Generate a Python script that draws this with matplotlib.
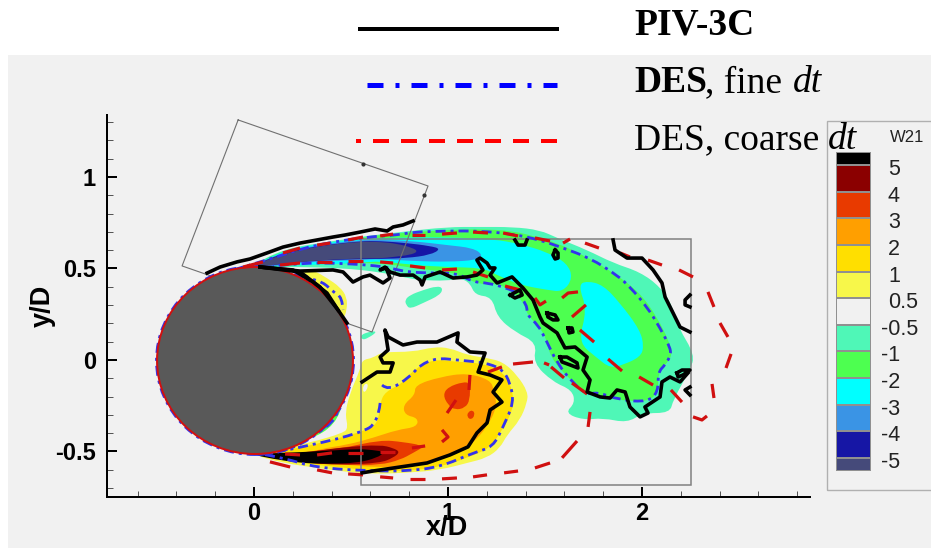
import matplotlib
matplotlib.use("Agg")
import matplotlib.pyplot as plt
from matplotlib.colors import ListedColormap
from matplotlib.lines import Line2D
from matplotlib.patches import Ellipse, Rectangle, PathPatch
from matplotlib.path import Path
import numpy as np

# ---------- contour levels ----------
LEVEL_LABELS = ['5', '4', '3', '2', '1', '0.5', '-0.5', '-1', '-2', '-3', '-4', '-5']
BG = '#f1f1f1'
C_GT5 = '#000000'; C_45 = '#8b0000'; C_34 = '#e83a00'; C_23 = '#ff9f00'; C_12 = '#ffdf00'
C_051 = '#f7f74a'; C_N1 = '#4ff7b7'; C_N2 = '#4dff50'; C_N3 = '#00ffff'; C_N4 = '#3a94e5'
C_N5 = '#1616a5'; C_LTN5 = '#454a7a'
LEVEL_COLOURS = [C_GT5, C_45, C_34, C_23, C_12, C_051, BG, C_N1, C_N2, C_N3, C_N4, C_N5, C_LTN5]

# ---------- positive vorticity contours (x/D, y/D) ----------
POS_05_LOWER = [(-0.021,-0.514),(0.149,-0.481),(0.304,-0.448),(0.459,-0.399),(0.485,-0.372),(0.469,-0.290),(0.495,-0.180),
    (0.546,-0.055),(0.557,0.0),(0.613,0.011),(0.660,0.044),(0.820,0.044),(0.923,0.071),(1.010,0.066),(1.098,0.027),
    (1.201,0.011),(1.284,-0.011),(1.356,-0.082),(1.412,-0.175),(1.407,-0.235),(1.371,-0.328),(1.304,-0.410),(1.268,-0.481),
    (1.201,-0.535),(1.098,-0.563),(0.959,-0.601),(0.789,-0.617),(0.613,-0.623),(0.479,-0.612),(0.325,-0.590),(0.149,-0.563)]
POS_05_HOLE = [(0.562,-0.137),(0.588,-0.126),(0.583,-0.164),(0.562,-0.180)]
POS_05_UPPER = [(0.237,0.492),(0.304,0.492),(0.376,0.448),(0.443,0.399),(0.479,0.344),(0.479,0.273),(0.459,0.219),
    (0.407,0.311),(0.325,0.426),(0.237,0.475)]
POS_1 = [(-0.021,-0.514),(0.149,-0.497),(0.304,-0.464),(0.459,-0.421),(0.583,-0.382),(0.639,-0.344),(0.650,-0.235),
    (0.675,-0.175),(0.768,-0.126),(0.820,-0.055),(0.923,0.005),(1.046,-0.011),(1.165,-0.016),(1.268,-0.055),(1.320,-0.126),
    (1.340,-0.219),(1.320,-0.311),(1.268,-0.399),(1.217,-0.481),(1.098,-0.535),(0.959,-0.585),(0.789,-0.607),(0.613,-0.607),
    (0.479,-0.590),(0.325,-0.574),(0.149,-0.546)]
POS_2 = [(0.340,-0.486),(0.479,-0.464),(0.613,-0.426),(0.737,-0.382),(0.840,-0.366),(0.845,-0.317),(0.778,-0.301),
    (0.768,-0.246),(0.830,-0.191),(0.830,-0.137),(0.959,-0.093),(1.098,-0.071),(1.217,-0.109),(1.237,-0.164),(1.253,-0.257),
    (1.201,-0.366),(1.129,-0.454),(1.062,-0.503),(0.923,-0.557),(0.789,-0.585),(0.613,-0.585),(0.479,-0.574),(0.325,-0.557),(0.186,-0.535)]
POS_3_TAIL = [(0.237,-0.503),(0.443,-0.486),(0.650,-0.437),(0.768,-0.448),(0.882,-0.470),(0.820,-0.508),(0.753,-0.546),
    (0.650,-0.574),(0.479,-0.574),(0.273,-0.563),(0.134,-0.535)]
POS_3_BLOB = [(0.974,-0.191),(1.000,-0.148),(1.077,-0.120),(1.113,-0.126),(1.113,-0.219),(1.088,-0.262),(1.036,-0.273),(1.000,-0.246)]
POS_3_SPOT = [(1.103,-0.284),(1.129,-0.273),(1.139,-0.301),(1.119,-0.328),(1.098,-0.311)]
POS_4 = [(0.160,-0.541),(0.273,-0.503),(0.479,-0.475),(0.650,-0.464),(0.717,-0.481),(0.753,-0.503),(0.717,-0.535),
    (0.650,-0.563),(0.443,-0.574),(0.273,-0.563)]
POS_5 = [(-0.021,-0.514),(0.149,-0.508),(0.376,-0.497),(0.531,-0.486),(0.613,-0.492),(0.675,-0.503),(0.634,-0.535),
    (0.531,-0.563),(0.376,-0.568),(0.237,-0.563),(0.098,-0.541)]

# ---------- negative vorticity contours ----------
NEG_05 = [(-0.021,0.508),(0.149,0.607),(0.407,0.650),(0.583,0.678),(0.753,0.699),(0.995,0.727),(1.165,0.727),(1.335,0.727),
    (1.474,0.710),(1.562,0.667),(1.717,0.601),(1.851,0.530),(1.990,0.481),(2.095,0.399),(2.160,0.290),(2.186,0.180),
    (2.273,0.027),(2.247,-0.055),(2.160,-0.219),(2.144,-0.290),(2.005,-0.290),(1.923,-0.344),(1.799,-0.317),(1.696,-0.328),
    (1.603,-0.290),(1.655,-0.235),(1.639,-0.164),(1.541,-0.120),(1.438,-0.016),(1.459,0.093),(1.345,0.153),(1.253,0.235),
    (1.227,0.344),(1.139,0.355),(1.113,0.421),(1.062,0.448),(0.995,0.432),(0.856,0.437),(0.789,0.448),(0.650,0.481),
    (0.443,0.503),(0.237,0.508),(0.057,0.508)]
NEG_05_BLOB_A = [(0.778,0.328),(0.804,0.355),(0.871,0.382),(0.943,0.404),(0.974,0.393),(0.959,0.355),(0.871,0.311),(0.804,0.279),(0.784,0.301)]
NEG_05_BLOB_B = [(0.546,0.137),(0.608,0.158),(0.634,0.153),(0.588,0.120),(0.557,0.109)]
NEG_05_SLIVER = [(0.468,-0.207),(0.418,-0.355),(0.288,-0.437),(0.366,-0.355)]
NEG_1 = [(-0.021,0.508),(0.149,0.601),(0.407,0.639),(0.583,0.672),(0.650,0.683),(0.820,0.699),(0.995,0.710),(1.165,0.716),
    (1.335,0.705),(1.459,0.672),(1.562,0.639),(1.717,0.563),(1.871,0.464),(1.990,0.366),(2.077,0.235),(2.144,0.093),
    (2.155,0.027),(2.129,-0.016),(2.083,-0.071),(2.083,-0.180),(2.026,-0.229),(1.887,-0.219),(1.732,-0.202),(1.614,-0.093),
    (1.526,0.016),(1.500,0.148),(1.407,0.246),(1.387,0.328),(1.268,0.421),(1.165,0.410),(1.062,0.464),(0.995,0.481),
    (0.820,0.503),(0.650,0.530),(0.443,0.530),(0.237,0.519),(0.057,0.508)]
NEG_2_BAND = [(-0.021,0.508),(0.149,0.596),(0.325,0.634),(0.546,0.661),(0.650,0.667),(0.959,0.672),(1.232,0.661),(1.371,0.634),
    (1.510,0.590),(1.613,0.530),(1.644,0.448),(1.593,0.372),(1.510,0.383),(1.371,0.410),(1.253,0.464),(1.180,0.503),
    (0.995,0.508),(0.820,0.519),(0.650,0.541),(0.546,0.530),(0.273,0.519),(0.057,0.508)]
NEG_2_BLOB = [(1.671,0.410),(1.717,0.432),(1.799,0.410),(1.887,0.311),(1.990,0.164),(2.010,0.071),(1.990,0.016),(1.902,-0.027),
    (1.835,-0.044),(1.768,0.011),(1.670,0.098),(1.717,0.273)]
NEG_3 = [(-0.021,0.508),(0.149,0.590),(0.325,0.628),(0.546,0.656),(0.650,0.656),(0.820,0.650),(0.995,0.628),(1.129,0.612),
    (1.180,0.574),(1.149,0.546),(0.995,0.536),(0.820,0.541),(0.650,0.552),(0.546,0.546),(0.273,0.536),(0.067,0.508)]
NEG_4 = [(-0.021,0.508),(0.149,0.585),(0.325,0.623),(0.546,0.650),(0.650,0.650),(0.789,0.639),(0.907,0.623),(0.964,0.607),
    (0.907,0.574),(0.789,0.557),(0.650,0.552),(0.546,0.552),(0.273,0.541),(0.067,0.514)]
NEG_5 = [(-0.021,0.508),(0.149,0.580),(0.325,0.621),(0.546,0.648),(0.650,0.645),(0.737,0.636),(0.820,0.612),(0.845,0.592),
    (0.804,0.574),(0.717,0.563),(0.650,0.555),(0.546,0.556),(0.273,0.541),(0.067,0.514)]

# ---------- PIV-3C iso-lines ----------
PIV_OPEN = [
    [(-0.242,0.475),(-0.175,0.508),(-0.088,0.536),(-0.021,0.552),(0.067,0.585),(0.149,0.617),(0.237,0.639),(0.325,0.656),
     (0.407,0.672),(0.469,0.683),(0.546,0.699),(0.624,0.716),(0.686,0.705),(0.717,0.727),(0.768,0.738),(0.820,0.760)],
    [(0.031,0.508),(0.237,0.486),(0.407,0.492),(0.459,0.481),(0.510,0.426),(0.562,0.454),(0.598,0.464),(0.665,0.421),
     (0.701,0.448),(0.681,0.503),(0.650,0.492),(0.675,0.508),(0.701,0.481),(0.753,0.464),(0.820,0.464),(0.856,0.437),
     (0.866,0.410),(0.882,0.454),(0.959,0.481),(1.026,0.448),(1.098,0.454),(1.149,0.464),(1.180,0.492),(1.149,0.546),
     (1.165,0.557),(1.201,0.530),(1.217,0.503),(1.242,0.503),(1.217,0.464),(1.253,0.421),(1.330,0.454),(1.387,0.393),
     (1.438,0.328),(1.474,0.235),(1.490,0.202),(1.562,0.148),(1.603,0.066),(1.655,0.071),(1.717,0.016),(1.696,-0.055),
     (1.732,-0.109),(1.717,-0.175),(1.784,-0.202),(1.835,-0.208),(1.871,-0.164),(1.913,-0.175),(1.938,-0.257),(1.990,-0.311),
     (2.031,-0.290),(2.015,-0.257),(2.093,-0.202),(2.103,-0.120),(2.144,-0.093),(2.196,-0.120),(2.237,-0.071)],
    [(0.031,0.508),(0.201,0.492),(0.304,0.426),(0.376,0.366),(0.433,0.273),(0.479,0.202)],
    [(0.031,0.508),(0.237,0.481),(0.340,0.399),(0.433,0.273)],
    [(1.851,0.656),(1.861,0.601),(1.923,0.557),(2.000,0.557),(2.057,0.492),(2.103,0.421),(2.119,0.344),(2.160,0.257),(2.196,0.180),(2.247,0.153)],
    [(2.247,0.355),(2.222,0.328),(2.222,0.301),(2.247,0.290)],
    [(2.247,-0.148),(2.222,-0.164),(2.247,-0.191)],
    [(1.345,0.656),(1.361,0.628),(1.397,0.628),(1.407,0.656)],
    [(0.557,-0.617),(0.613,-0.607),(0.753,-0.585),(0.892,-0.563),(1.010,-0.519),(1.103,-0.475),(1.149,-0.399),(1.201,-0.344),
     (1.217,-0.273),(1.278,-0.230),(1.232,-0.175),(1.278,-0.109),(1.217,-0.082),(1.155,-0.066),(1.191,0.038),(1.113,0.044),
     (1.046,0.098),(1.052,0.148),(0.943,0.098),(0.840,0.098),(0.768,0.082),(0.691,0.126),(0.675,0.164),(0.691,0.055),
     (0.650,0.016),(0.665,-0.016),(0.717,-0.016),(0.701,-0.066),(0.634,-0.066),(0.557,-0.120)],
]
PIV_LOOPS = [
    [(2.180,-0.071),(2.206,-0.055),(2.247,-0.055),(2.211,-0.082),(2.186,-0.093)],
    [(1.552,0.601),(1.567,0.585),(1.567,0.557),(1.552,0.552),(1.541,0.574)],
    [(1.510,0.257),(1.552,0.246),(1.567,0.219),(1.541,0.219),(1.515,0.235)],
    [(1.619,0.175),(1.639,0.175),(1.644,0.153),(1.624,0.148)],
    [(1.577,0.016),(1.613,0.016),(1.665,-0.016),(1.670,-0.044),(1.629,-0.027),(1.588,-0.011)],
    [(1.320,0.355),(1.371,0.383),(1.382,0.355),(1.345,0.339)],
]

# ---------- DES fine dt iso-lines ----------
DES_FINE = [
    [(-0.108,0.492),(0.067,0.546),(0.237,0.607),(0.407,0.645),(0.583,0.672),(0.737,0.683),(0.820,0.699),(0.995,0.705),
     (1.165,0.705),(1.335,0.688),(1.474,0.656),(1.593,0.612),(1.732,0.557),(1.871,0.464),(1.938,0.399),(2.026,0.290),
     (2.093,0.175),(2.144,0.071),(2.149,0.027),(2.119,-0.027),(2.083,-0.066),(2.083,-0.175),(2.031,-0.229),(1.887,-0.219),
     (1.768,-0.175),(1.717,-0.191),(1.639,-0.120),(1.562,-0.016),(1.500,0.120),(1.464,0.191),(1.407,0.246),(1.407,0.301),
     (1.356,0.366),(1.304,0.393),(1.206,0.421),(1.129,0.426),(1.046,0.475),(0.907,0.475),(0.789,0.481),(0.701,0.503),
     (0.598,0.519),(0.407,0.530),(0.253,0.530),(0.098,0.514)],
    [(0.237,0.481),(0.273,0.448),(0.356,0.426),(0.407,0.372),(0.454,0.344),(0.459,0.273)],
    [(-0.175,-0.464),(-0.021,-0.503),(0.149,-0.535),(0.325,-0.590),(0.613,-0.607),(0.789,-0.607),(0.959,-0.585),(1.129,-0.508),
     (1.232,-0.475),(1.284,-0.366),(1.340,-0.230),(1.320,-0.126),(1.284,-0.055),(1.201,-0.016),(1.046,0.0),(0.943,0.011),
     (0.856,-0.027),(0.804,-0.093),(0.691,-0.169),(0.660,-0.137)],
    [(0.650,-0.235),(0.639,-0.344),(0.546,-0.399),(0.304,-0.464),(0.119,-0.503)],
    [(0.505,-0.098),(0.443,-0.262),(0.392,-0.366),(0.237,-0.454)],
]

# ---------- DES coarse dt iso-line, dash by dash ----------
DES_COARSE = [
    [(-0.057,0.508),(0.046,0.536)],[(0.149,0.585),(0.237,0.612)],[(0.325,0.628),(0.392,0.639)],[(0.485,0.656),(0.562,0.672)],
    [(0.650,0.678),(0.717,0.688)],[(0.814,0.683),(0.882,0.683)],[(0.969,0.688),(1.046,0.694)],[(1.129,0.699),(1.206,0.694)],
    [(1.284,0.694),(1.361,0.678)],[(1.448,0.667),(1.526,0.650)],[(1.593,0.639),(1.629,0.661)],[(1.706,0.639),(1.778,0.612)],
    [(1.887,0.585),(1.938,0.563)],[(2.031,0.546),(2.103,0.519)],[(2.191,0.492),(2.263,0.454)],[(2.340,0.372),(2.371,0.290)],
    [(2.402,0.202),(2.443,0.126)],[(2.459,0.033),(2.433,-0.044)],[(2.361,-0.131),(2.371,-0.208)],
    [(2.335,-0.306),(2.309,-0.328),(2.263,-0.311)],[(2.206,-0.230),(2.149,-0.164)],[(2.057,-0.137),(1.985,-0.093)],
    [(1.897,-0.060),(1.825,0.005)],[(1.753,0.098),(1.680,0.164)],[(1.639,0.235),(1.711,0.301)],
    [(1.588,0.339),(1.619,0.366),(1.670,0.372)],[(1.448,0.339),(1.474,0.301),(1.505,0.322)],[(1.371,0.383),(1.294,0.404)],
    [(1.206,0.454),(1.129,0.481)],[(1.046,0.497),(0.969,0.492)],[(0.882,0.503),(0.804,0.514)],[(0.717,0.530),(0.650,0.536)],
    [(0.562,0.541),(0.485,0.541)],[(0.402,0.536),(0.325,0.536)],[(0.237,0.530),(0.134,0.519)],
    [(0.082,-0.557),(0.186,-0.585)],[(0.325,-0.601),(0.402,-0.617)],[(0.485,-0.623),(0.562,-0.628)],[(0.650,-0.639),(0.717,-0.645)],
    [(0.804,-0.650),(0.882,-0.650)],[(0.969,-0.650),(1.046,-0.645)],[(1.129,-0.639),(1.201,-0.628)],[(1.289,-0.617),(1.361,-0.607)],
    [(1.448,-0.590),(1.526,-0.563)],[(1.588,-0.535),(1.665,-0.443)],[(1.722,-0.366),(1.732,-0.284)],
    [(1.206,-0.066),(1.278,-0.038)],[(1.335,-0.022),(1.438,-0.011)],[(1.495,-0.016),(1.521,-0.027)],[(1.531,-0.038),(1.598,-0.098)],
    [(1.639,-0.126),(1.717,-0.186)],[(1.113,-0.082),(1.108,-0.164)],[(1.041,-0.219),(0.995,-0.290)],
    [(0.969,-0.382),(1.000,-0.421),(0.969,-0.448)],[(0.814,-0.481),(0.882,-0.470)],[(0.650,-0.503),(0.727,-0.503)],
    [(0.485,-0.508),(0.562,-0.508)],[(0.325,-0.519),(0.402,-0.508)],[(0.160,-0.514),(0.237,-0.519)],
]

# ---------- measurement windows ----------
PIV_WINDOW_X = [0.552, 2.253]
PIV_WINDOW_Y = [-0.683, 0.661]
ROTATED_WINDOW = [(-0.082,1.312),(0.897,0.951),(0.608,0.153),(-0.371,0.514)]
WINDOW_MARKS = [(0.562,1.071),(0.876,0.902)]
CYL_CENTRE = (0.005, -0.003)
CYL_W, CYL_H = 1.01, 1.022

W, H = 931, 548
plt.rcParams['lines.scale_dashes'] = False
fig = plt.figure(figsize=(W/100, H/100), dpi=100, facecolor='white')
fx = lambda px: px / W
fy = lambda py: 1 - py / H
PT = 0.72  # points per pixel at 100 dpi

fig.add_artist(Rectangle((fx(8), 0), 1 - fx(8), fy(55), transform=fig.transFigure, fc=BG, ec='none', zorder=-5))

ax = fig.add_axes([fx(107), fy(497), fx(810) - fx(107), fy(115) - fy(497)], facecolor='none')
ax.set_xlim(-0.758, 2.866)
ax.set_ylim(-0.749, 1.339)


def closed_curve(points):
    """Smooth closed outline with the read points as quadratic control points."""
    p = np.array(points, float)
    mids = (p + np.roll(p, -1, axis=0)) / 2
    verts = [mids[-1]]
    codes = [Path.MOVETO]
    for ctrl, end in zip(p, mids):
        verts += [ctrl, end]
        codes += [Path.CURVE3, Path.CURVE3]
    return Path(verts, codes)


def open_curve(points):
    p = np.array(points, float)
    verts = [p[0]]
    codes = [Path.MOVETO]
    for i in range(1, len(p) - 1):
        end = p[i + 1] if i == len(p) - 2 else (p[i] + p[i + 1]) / 2
        verts += [p[i], end]
        codes += [Path.CURVE3, Path.CURVE3]
    return Path(verts, codes)


for pts, col in [(NEG_05, C_N1), (NEG_05_BLOB_A, C_N1), (NEG_05_BLOB_B, C_N1), (NEG_1, C_N2), (NEG_05_SLIVER, C_N2),
                 (NEG_2_BAND, C_N3), (NEG_2_BLOB, C_N3), (NEG_3, C_N4), (NEG_4, C_N5), (NEG_5, C_LTN5),
                 (POS_05_LOWER, C_051), (POS_05_UPPER, C_051), (POS_05_HOLE, BG), (POS_1, C_12), (POS_2, C_23),
                 (POS_3_TAIL, C_34), (POS_3_BLOB, C_34), (POS_3_SPOT, C_34), (POS_4, C_45), (POS_5, C_GT5)]:
    ax.add_patch(PathPatch(closed_curve(pts), fc=col, ec='none', lw=0, zorder=2))

# windows
ax.add_patch(Rectangle((PIV_WINDOW_X[0], PIV_WINDOW_Y[0]), PIV_WINDOW_X[1] - PIV_WINDOW_X[0],
                       PIV_WINDOW_Y[1] - PIV_WINDOW_Y[0], fc='none', ec='#808080', lw=1.1, zorder=3))
rx, ry = zip(*(ROTATED_WINDOW + ROTATED_WINDOW[:1]))
ax.plot(rx, ry, color='#707070', lw=0.8, zorder=3)
mx, my = zip(*WINDOW_MARKS)
ax.plot(mx, my, ls='none', marker='o', ms=2, color='#333333', zorder=3)

# iso-lines
FINE_DASH = (0, (10*PT, 5*PT, 3*PT, 5*PT))
for seg in DES_FINE:
    ax.add_patch(PathPatch(open_curve(seg), fc='none', ec='#3333ee', lw=2.8*PT, ls=FINE_DASH, capstyle='butt', zorder=5))

# cylinder
ax.add_patch(Ellipse(CYL_CENTRE, CYL_W + 0.008, CYL_H + 0.008, fc='none', ec='#3333ee', lw=2.4*PT, ls=FINE_DASH, zorder=4))
ax.add_patch(Ellipse(CYL_CENTRE, CYL_W, CYL_H, fc='#595959', ec='#d01010', lw=2*PT, zorder=5.5))

for seg in DES_COARSE:
    xs, ys = zip(*seg)
    ax.plot(xs, ys, color='#d01010', lw=3.2*PT, solid_capstyle='butt', zorder=6)

for seg in PIV_OPEN:
    xs, ys = zip(*seg)
    ax.plot(xs, ys, color='black', lw=3.6*PT, solid_joinstyle='round', zorder=7)
for seg in PIV_LOOPS:
    xs, ys = zip(*(seg + seg[:1]))
    ax.plot(xs, ys, color='black', lw=3.6*PT, solid_joinstyle='round', zorder=7)

# axes furniture
for s in ('top', 'right'):
    ax.spines[s].set_visible(False)
for s in ('left', 'bottom'):
    ax.spines[s].set_linewidth(2*PT)
ax.set_xticks([0, 1, 2])
ax.set_xticks([v/5 for v in range(-3, 15) if v % 5], minor=True)
ax.set_yticks([-0.5, 0, 0.5, 1])
ax.set_yticklabels(['-0.5', '0', '0.5', '1'])
ax.set_yticks([v/10 for v in range(-7, 14) if v % 5], minor=True)
ax.tick_params(which='major', direction='in', length=10*PT, width=2*PT)
ax.tick_params(axis='x', which='major', pad=3.5)
ax.tick_params(axis='y', which='major', pad=8)
ax.tick_params(which='minor', direction='in', length=6*PT, width=1*PT, color='#555555')
for lab in ax.get_xticklabels() + ax.get_yticklabels():
    lab.set_fontfamily('Liberation Sans')
    lab.set_fontweight('bold')
    lab.set_fontsize(17)
fig.text(fx(447), fy(528), 'x/D', family='Liberation Sans', weight='bold', size=19.5, ha='center', va='center')
fig.text(fx(43), fy(306), 'y/D', family='Liberation Sans', weight='bold', size=19.5, ha='center', va='center', rotation=90)

# legend lines
fig.add_artist(Line2D([fx(358), fx(559)], [fy(29), fy(29)], color='black', lw=4*PT, solid_capstyle='butt'))
fig.add_artist(Line2D([fx(367), fx(557)], [fy(84.5), fy(84.5)], color='#0000ff', lw=5*PT,
                      ls=(0, (16*PT, 12*PT, 4*PT, 12*PT)), dash_capstyle='butt'))
fig.add_artist(Line2D([fx(356), fx(557)], [fy(141), fy(141)], color='#ff0000', lw=4*PT,
                      ls=(11*PT, (16*PT, 12*PT)), dash_capstyle='butt'))

# legend text
SERIF = 'Liberation Serif'
LEG_SIZE = 27
for px, py, s, w, st in [(634, 34.5, 'PIV-3C', 'bold', 'normal'),
                         (634, 92, 'DES', 'bold', 'normal'), (705, 92, ', fine', 'normal', 'normal'), (793, 92, 'dt', 'normal', 'italic'),
                         (634, 149, 'DES, coarse', 'normal', 'normal'), (828, 149, 'dt', 'normal', 'italic')]:
    fig.text(fx(px), fy(py), s, family=SERIF, weight=w, style=st, size=LEG_SIZE, ha='left', va='baseline', zorder=10)

# contour legend
fig.add_artist(Rectangle((fx(827), fy(490)), 1.01 - fx(827), fy(121) - fy(490), transform=fig.transFigure,
                         fc='none', ec='#b0b0b0', lw=1, zorder=1))
cax = fig.add_axes([fx(836), fy(471), fx(871) - fx(836), fy(152) - fy(471)])
n = len(LEVEL_LABELS)
edges = np.array([-0.5] + list(range(n)) + [n - 0.5])
vals = np.arange(len(LEVEL_COLOURS)).reshape(-1, 1)
cax.pcolormesh([0, 1], edges, vals, cmap=ListedColormap(LEVEL_COLOURS[::-1]), vmin=-0.5, vmax=len(LEVEL_COLOURS) - 0.5,
               edgecolors='#909090', linewidth=0.3)
cax.set_xlim(0, 1)
cax.set_ylim(edges[0], edges[-1])
cax.set_xticks([]); cax.set_yticks([])
for s in cax.spines.values():
    s.set_visible(False)
for i, lab in enumerate(LEVEL_LABELS):
    ypos = n - 1 - i - 0.17
    xp = 881 if lab.startswith('-') else 888
    cax.annotate(lab, xy=(0, ypos), xycoords=('figure fraction', 'data'), xytext=(fx(xp)*W*PT, 0), textcoords='offset points',
                 family='Liberation Sans', size=15.5, va='center', ha='left', color='#222222')
fig.text(fx(907), fy(137), 'W21', family='Liberation Sans', size=12, ha='center', va='center', color='#222222')

fig.savefig('out.png', dpi=100, facecolor=fig.get_facecolor())
